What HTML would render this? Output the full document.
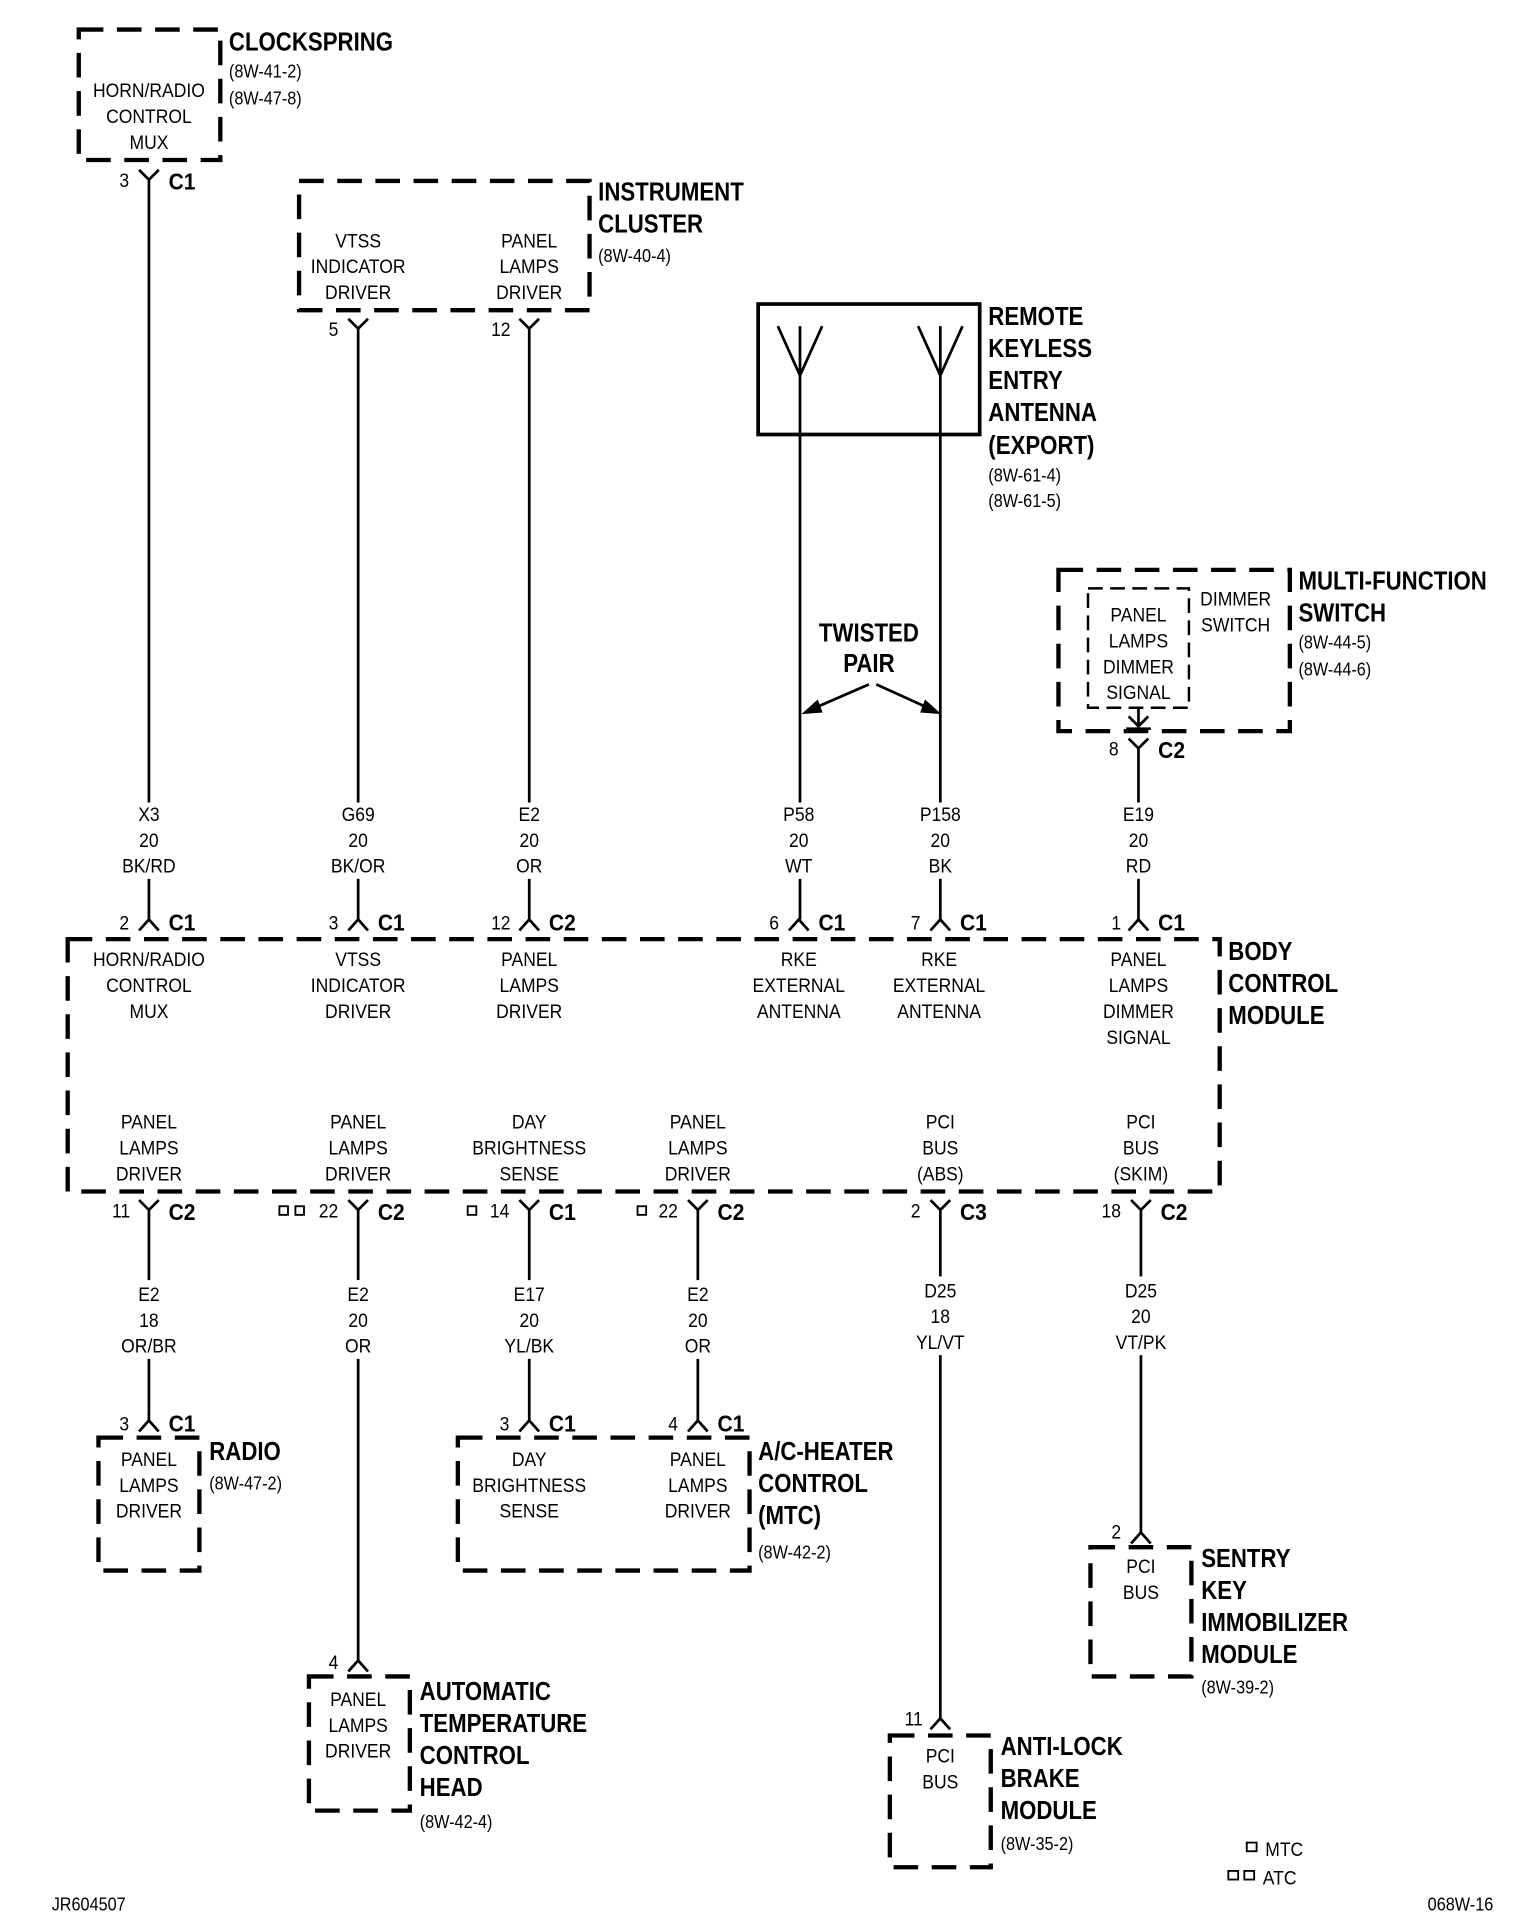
<!DOCTYPE html>
<html><head><meta charset="utf-8"><style>
html,body{margin:0;padding:0;background:#fff}
svg{display:block}
text{font-family:"Liberation Sans Narrow","Liberation Sans",sans-serif;fill:#000;transform-box:fill-box}
.t{font-size:16px;text-anchor:middle;transform-origin:center;transform:scaleX(.89)}
.l{font-size:16px;transform-origin:left;transform:scaleX(.89)}
.b{font-size:21px;font-weight:bold;transform-origin:left;transform:scaleX(.86)}
.bc{font-size:19px;font-weight:bold;transform-origin:left;transform:scaleX(.9)}
.r{font-size:15px;transform-origin:left;transform:scaleX(.88)}
.bm{font-size:21px;font-weight:bold;text-anchor:middle;transform-origin:center;transform:scaleX(.86)}
.box{fill:none;stroke:#000;stroke-width:3.5;stroke-dasharray:20 11}
.w{stroke:#000;stroke-width:2.2;fill:none}
</style></head><body>
<svg width="1536" height="1930" viewBox="0 0 1248 1568" preserveAspectRatio="none" xmlns="http://www.w3.org/2000/svg">
<!-- CLOCKSPRING -->
<rect class="box" x="64" y="24" width="115" height="106"/>
<text class="t" x="121" y="79">HORN/RADIO</text><text class="t" x="121" y="100">CONTROL</text><text class="t" x="121" y="121">MUX</text>
<text class="b" x="186" y="41">CLOCKSPRING</text>
<text class="r" x="186" y="63">(8W-41-2)</text><text class="r" x="186" y="85">(8W-47-8)</text>
<path class="w" d="M113,138 L121,146 L129,138 M121,146 V747"/>
<text class="l" x="97" y="152">3</text><text class="bc" x="137" y="154">C1</text>

<!-- INSTRUMENT CLUSTER -->
<rect class="box" x="243" y="147" width="236" height="105"/>
<text class="t" x="291" y="201">VTSS</text><text class="t" x="291" y="222">INDICATOR</text><text class="t" x="291" y="243">DRIVER</text>
<text class="t" x="430" y="201">PANEL</text><text class="t" x="430" y="222">LAMPS</text><text class="t" x="430" y="243">DRIVER</text>
<text class="b" x="486" y="163">INSTRUMENT</text><text class="b" x="486" y="189">CLUSTER</text><text class="r" x="486" y="213">(8W-40-4)</text>
<path class="w" d="M283,259 L291,267 L299,259 M291,267 V747"/>
<text class="l" x="267" y="273">5</text>
<path class="w" d="M422,259 L430,267 L438,259 M430,267 V747"/>
<text class="l" x="399" y="273">12</text>

<!-- RKE -->
<rect x="616" y="247" width="180" height="106" fill="none" stroke="#000" stroke-width="3"/>
<path class="w" d="M632,265 L650,305 L668,265 M650,265 V305 V747"/>
<path class="w" d="M746,265 L764,305 L782,265 M764,265 V305 V747"/>
<text class="b" x="803" y="264">REMOTE</text><text class="b" x="803" y="290">KEYLESS</text><text class="b" x="803" y="316">ENTRY</text><text class="b" x="803" y="342">ANTENNA</text><text class="b" x="803" y="369">(EXPORT)</text>
<text class="r" x="803" y="391">(8W-61-4)</text><text class="r" x="803" y="412">(8W-61-5)</text>
<text class="bm" x="706" y="521">TWISTED</text><text class="bm" x="706" y="546">PAIR</text>
<path class="w" d="M706,556 L660,576 M712,556 L756,576"/>
<path d="M654,579 L664,570 L667,578 Z M762,579 L752,570 L749,578 Z" fill="#000" stroke="#000" stroke-width="2"/>

<!-- MULTI-FUNCTION SWITCH -->
<rect class="box" x="860" y="463" width="188" height="131"/>
<rect x="884" y="478" width="82" height="97" fill="none" stroke="#000" stroke-width="2" stroke-dasharray="12 6"/>
<text class="t" x="925" y="505">PANEL</text><text class="t" x="925" y="526">LAMPS</text><text class="t" x="925" y="547">DIMMER</text><text class="t" x="925" y="568">SIGNAL</text>
<text class="t" x="1004" y="492">DIMMER</text><text class="t" x="1004" y="513">SWITCH</text>
<text class="b" x="1055" y="479">MULTI-FUNCTION</text><text class="b" x="1055" y="505">SWITCH</text>
<text class="r" x="1055" y="527">(8W-44-5)</text><text class="r" x="1055" y="549">(8W-44-6)</text>
<path class="w" d="M925,575 V590 M917,582 L925,590 L933,582 M915,592 H935"/>
<path class="w" d="M917,600 L925,608 L933,600 M925,608 V747"/>
<text class="l" x="901" y="614">8</text><text class="bc" x="941" y="616">C2</text>

<!-- white gaps behind labels -->
<g fill="#fff">
<rect x="95" y="652" width="52" height="62"/><rect x="265" y="652" width="52" height="62"/><rect x="404" y="652" width="52" height="62"/>
<rect x="625" y="652" width="50" height="62"/><rect x="738" y="652" width="52" height="62"/><rect x="900" y="652" width="50" height="62"/>
</g>
<text class="t" x="121" y="667">X3</text><text class="t" x="121" y="688">20</text><text class="t" x="121" y="709">BK/RD</text>
<text class="t" x="291" y="667">G69</text><text class="t" x="291" y="688">20</text><text class="t" x="291" y="709">BK/OR</text>
<text class="t" x="430" y="667">E2</text><text class="t" x="430" y="688">20</text><text class="t" x="430" y="709">OR</text>
<text class="t" x="649" y="667">P58</text><text class="t" x="649" y="688">20</text><text class="t" x="649" y="709">WT</text>
<text class="t" x="764" y="667">P158</text><text class="t" x="764" y="688">20</text><text class="t" x="764" y="709">BK</text>
<text class="t" x="925" y="667">E19</text><text class="t" x="925" y="688">20</text><text class="t" x="925" y="709">RD</text>

<!-- BCM top connectors -->
<path class="w" d="M113,756 L121,747 L129,756"/><text class="l" x="97" y="755">2</text><text class="bc" x="137" y="756">C1</text>
<path class="w" d="M283,756 L291,747 L299,756"/><text class="l" x="267" y="755">3</text><text class="bc" x="307" y="756">C1</text>
<path class="w" d="M422,756 L430,747 L438,756"/><text class="l" x="399" y="755">12</text><text class="bc" x="446" y="756">C2</text>
<path class="w" d="M641,756 L649,747 L657,756"/><text class="l" x="625" y="755">6</text><text class="bc" x="665" y="756">C1</text>
<path class="w" d="M756,756 L764,747 L772,756"/><text class="l" x="740" y="755">7</text><text class="bc" x="780" y="756">C1</text>
<path class="w" d="M917,756 L925,747 L933,756"/><text class="l" x="903" y="755">1</text><text class="bc" x="941" y="756">C1</text>

<!-- BCM -->
<rect class="box" x="55" y="763" width="936" height="205"/>
<text class="t" x="121" y="785">HORN/RADIO</text><text class="t" x="121" y="806">CONTROL</text><text class="t" x="121" y="827">MUX</text>
<text class="t" x="291" y="785">VTSS</text><text class="t" x="291" y="806">INDICATOR</text><text class="t" x="291" y="827">DRIVER</text>
<text class="t" x="430" y="785">PANEL</text><text class="t" x="430" y="806">LAMPS</text><text class="t" x="430" y="827">DRIVER</text>
<text class="t" x="649" y="785">RKE</text><text class="t" x="649" y="806">EXTERNAL</text><text class="t" x="649" y="827">ANTENNA</text>
<text class="t" x="763" y="785">RKE</text><text class="t" x="763" y="806">EXTERNAL</text><text class="t" x="763" y="827">ANTENNA</text>
<text class="t" x="925" y="785">PANEL</text><text class="t" x="925" y="806">LAMPS</text><text class="t" x="925" y="827">DIMMER</text><text class="t" x="925" y="848">SIGNAL</text>
<text class="t" x="121" y="917">PANEL</text><text class="t" x="121" y="938">LAMPS</text><text class="t" x="121" y="959">DRIVER</text>
<text class="t" x="291" y="917">PANEL</text><text class="t" x="291" y="938">LAMPS</text><text class="t" x="291" y="959">DRIVER</text>
<text class="t" x="430" y="917">DAY</text><text class="t" x="430" y="938">BRIGHTNESS</text><text class="t" x="430" y="959">SENSE</text>
<text class="t" x="567" y="917">PANEL</text><text class="t" x="567" y="938">LAMPS</text><text class="t" x="567" y="959">DRIVER</text>
<text class="t" x="764" y="917">PCI</text><text class="t" x="764" y="938">BUS</text><text class="t" x="764" y="959">(ABS)</text>
<text class="t" x="927" y="917">PCI</text><text class="t" x="927" y="938">BUS</text><text class="t" x="927" y="959">(SKIM)</text>
<text class="b" x="998" y="780">BODY</text><text class="b" x="998" y="806">CONTROL</text><text class="b" x="998" y="832">MODULE</text>

<!-- BCM bottom connectors -->
<path class="w" d="M113,975 L121,983 L129,975 M121,983 V1145"/><text class="l" x="91" y="989">11</text><text class="bc" x="137" y="991">C2</text>
<path class="w" d="M283,975 L291,983 L299,975 M291,983 V1349"/><text class="l" x="259" y="989">22</text><text class="bc" x="307" y="991">C2</text>
<rect x="227" y="980" width="7" height="7" fill="none" stroke="#000" stroke-width="1.5"/><rect x="240" y="980" width="7" height="7" fill="none" stroke="#000" stroke-width="1.5"/>
<path class="w" d="M422,975 L430,983 L438,975 M430,983 V1154"/><text class="l" x="398" y="989">14</text><text class="bc" x="446" y="991">C1</text>
<rect x="380" y="980" width="7" height="7" fill="none" stroke="#000" stroke-width="1.5"/>
<path class="w" d="M559,975 L567,983 L575,975 M567,983 V1154"/><text class="l" x="535" y="989">22</text><text class="bc" x="583" y="991">C2</text>
<rect x="518" y="980" width="7" height="7" fill="none" stroke="#000" stroke-width="1.5"/>
<path class="w" d="M756,975 L764,983 L772,975 M764,983 V1396"/><text class="l" x="740" y="989">2</text><text class="bc" x="780" y="991">C3</text>
<path class="w" d="M919,975 L927,983 L935,975 M927,983 V1245"/><text class="l" x="895" y="989">18</text><text class="bc" x="943" y="991">C2</text>

<!-- bottom wire labels -->
<g fill="#fff">
<rect x="95" y="1040" width="52" height="64"/><rect x="265" y="1040" width="52" height="64"/><rect x="404" y="1040" width="52" height="64"/>
<rect x="541" y="1040" width="52" height="64"/><rect x="738" y="1037" width="52" height="64"/><rect x="899" y="1037" width="56" height="64"/>
</g>
<text class="t" x="121" y="1057">E2</text><text class="t" x="121" y="1078">18</text><text class="t" x="121" y="1099">OR/BR</text>
<text class="t" x="291" y="1057">E2</text><text class="t" x="291" y="1078">20</text><text class="t" x="291" y="1099">OR</text>
<text class="t" x="430" y="1057">E17</text><text class="t" x="430" y="1078">20</text><text class="t" x="430" y="1099">YL/BK</text>
<text class="t" x="567" y="1057">E2</text><text class="t" x="567" y="1078">20</text><text class="t" x="567" y="1099">OR</text>
<text class="t" x="764" y="1054">D25</text><text class="t" x="764" y="1075">18</text><text class="t" x="764" y="1096">YL/VT</text>
<text class="t" x="927" y="1054">D25</text><text class="t" x="927" y="1075">20</text><text class="t" x="927" y="1096">VT/PK</text>

<!-- RADIO -->
<path class="w" d="M113,1163 L121,1154 L129,1163 M121,1154 V1145"/><text class="l" x="97" y="1162">3</text><text class="bc" x="137" y="1163">C1</text>
<rect class="box" x="80" y="1168" width="82" height="108"/>
<text class="t" x="121" y="1191">PANEL</text><text class="t" x="121" y="1212">LAMPS</text><text class="t" x="121" y="1233">DRIVER</text>
<text class="b" x="170" y="1186">RADIO</text><text class="r" x="170" y="1210">(8W-47-2)</text>

<!-- A/C -->
<path class="w" d="M422,1163 L430,1154 L438,1163"/><text class="l" x="406" y="1162">3</text><text class="bc" x="446" y="1163">C1</text>
<path class="w" d="M559,1163 L567,1154 L575,1163"/><text class="l" x="543" y="1162">4</text><text class="bc" x="583" y="1163">C1</text>
<rect class="box" x="372" y="1168" width="237" height="108"/>
<text class="t" x="430" y="1191">DAY</text><text class="t" x="430" y="1212">BRIGHTNESS</text><text class="t" x="430" y="1233">SENSE</text>
<text class="t" x="567" y="1191">PANEL</text><text class="t" x="567" y="1212">LAMPS</text><text class="t" x="567" y="1233">DRIVER</text>
<text class="b" x="616" y="1186">A/C-HEATER</text><text class="b" x="616" y="1212">CONTROL</text><text class="b" x="616" y="1238">(MTC)</text><text class="r" x="616" y="1266">(8W-42-2)</text>

<!-- ATC -->
<path class="w" d="M283,1358 L291,1349 L299,1358"/><text class="l" x="267" y="1356">4</text>
<rect class="box" x="251" y="1362" width="82" height="109"/>
<text class="t" x="291" y="1386">PANEL</text><text class="t" x="291" y="1407">LAMPS</text><text class="t" x="291" y="1428">DRIVER</text>
<text class="b" x="341" y="1381">AUTOMATIC</text><text class="b" x="341" y="1407">TEMPERATURE</text><text class="b" x="341" y="1433">CONTROL</text><text class="b" x="341" y="1459">HEAD</text><text class="r" x="341" y="1485">(8W-42-4)</text>

<!-- ABS -->
<path class="w" d="M756,1405 L764,1396 L772,1405"/><text class="l" x="735" y="1402">11</text>
<rect class="box" x="723" y="1410" width="82" height="107"/>
<text class="t" x="764" y="1432">PCI</text><text class="t" x="764" y="1453">BUS</text>
<text class="b" x="813" y="1426">ANTI-LOCK</text><text class="b" x="813" y="1452">BRAKE</text><text class="b" x="813" y="1478">MODULE</text><text class="r" x="813" y="1503">(8W-35-2)</text>

<!-- SKIM -->
<path class="w" d="M919,1254 L927,1245 L935,1254"/><text class="l" x="903" y="1250">2</text>
<rect class="box" x="886" y="1257" width="82" height="105"/>
<text class="t" x="927" y="1278">PCI</text><text class="t" x="927" y="1299">BUS</text>
<text class="b" x="976" y="1273">SENTRY</text><text class="b" x="976" y="1299">KEY</text><text class="b" x="976" y="1325">IMMOBILIZER</text><text class="b" x="976" y="1351">MODULE</text><text class="r" x="976" y="1376">(8W-39-2)</text>

<!-- legend -->
<rect x="1013" y="1497" width="8" height="7" fill="none" stroke="#000" stroke-width="1.5"/>
<text class="l" x="1028" y="1508">MTC</text>
<rect x="998" y="1520" width="8" height="7" fill="none" stroke="#000" stroke-width="1.5"/><rect x="1011" y="1520" width="8" height="7" fill="none" stroke="#000" stroke-width="1.5"/>
<text class="l" x="1026" y="1531">ATC</text>
<text class="r" x="42" y="1552">JR604507</text>
<text class="r" x="1160" y="1552">068W-16</text>
</svg>
</body></html>
